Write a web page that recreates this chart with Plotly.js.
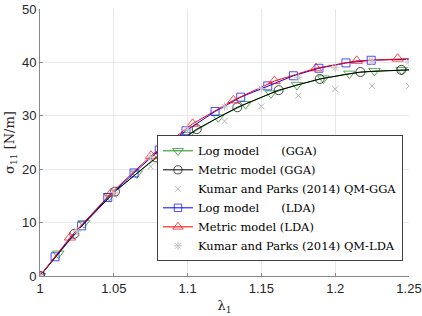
<!DOCTYPE html>
<html>
<head>
<meta charset="utf-8">
<script src="https://cdn.plot.ly/plotly-3.0.1.min.js"></script>
<style>html,body{margin:0;padding:0;background:#fff;}#chart{width:422px;height:316px;}</style>
</head>
<body>
<div id="chart"></div>
<script>
// Log model (GGA) markers, plus line end at 1.25
const logGGA_x = [1.0, 1.0124, 1.0298, 1.047, 1.0655, 1.0836, 1.1005, 1.1208, 1.1393, 1.1565, 1.1741, 1.192, 1.2096, 1.2266, 1.245, 1.25];
const logGGA_y = [0.0, 4.2, 9.9, 15.0, 19.2, 23.1, 26.4, 29.7, 32.2, 34.2, 35.8, 37.0, 37.9, 38.4, 38.6, 38.6];
// Metric model (GGA)
const metGGA_x = [1.0, 1.0232, 1.0508, 1.0786, 1.1062, 1.1337, 1.1617, 1.1895, 1.2171, 1.2448, 1.25];
const metGGA_y = [0.0, 7.9, 15.8, 22.2, 27.5, 31.6, 34.8, 36.9, 38.2, 38.6, 38.6];
// Kumar and Parks (2014) QM-GGA
const qmGGA_x = [1.0, 1.025, 1.05, 1.075, 1.1, 1.125, 1.15, 1.175, 1.2, 1.225, 1.25];
const qmGGA_y = [0.0, 8.0, 15.2, 20.5, 25.3, 29.0, 31.8, 33.8, 35.0, 35.6, 35.6];
// Log model (LDA)
const logLDA_x = [1.0, 1.0102, 1.0282, 1.0459, 1.0637, 1.0808, 1.0989, 1.1186, 1.136, 1.1543, 1.1717, 1.189, 1.2073, 1.2244, 1.25];
const logLDA_y = [0.0, 3.6, 9.4, 14.7, 19.3, 23.6, 27.2, 30.8, 33.5, 35.6, 37.5, 38.9, 39.9, 40.4, 40.6];
// Metric model (LDA)
const metLDA_x = [1.0, 1.0203, 1.0481, 1.0752, 1.1034, 1.131, 1.1588, 1.187, 1.2146, 1.2423, 1.25];
const metLDA_y = [0.0, 7.2, 15.5, 22.5, 28.5, 32.9, 36.5, 38.9, 40.3, 40.7, 40.7];
// Kumar and Parks (2014) QM-LDA
const qmLDA_x = [1.0, 1.025, 1.05, 1.075, 1.1, 1.125, 1.15, 1.175, 1.2, 1.225, 1.25];
const qmLDA_y = [0.0, 8.4, 15.6, 22.3, 27.5, 31.7, 35.1, 37.2, 39.0, 40.3, 40.1];

const names = [
  'Log model\u00a0\u00a0\u00a0\u00a0\u00a0\u00a0(GGA)',
  'Metric model (GGA)',
  'Kumar and Parks (2014) QM-GGA',
  'Log model\u00a0\u00a0\u00a0\u00a0\u00a0\u00a0(LDA)',
  'Metric model (LDA)',
  'Kumar and Parks (2014) QM-LDA'
];

function sizes(n, s) { const a = new Array(n).fill(s); a[n-1] = 0; return a; }

const traces = [
  {x: logGGA_x, y: logGGA_y, name: names[0], mode: 'lines+markers',
   line: {color: '#1a8a1a', width: 1},
   marker: {symbol: 'triangle-down-open', size: sizes(logGGA_x.length, 10), color: '#1a8a1a', line: {width: 1, color: '#1a8a1a'}}},
  {x: metGGA_x, y: metGGA_y, name: names[1], mode: 'lines+markers',
   line: {color: '#000000', width: 1},
   marker: {symbol: 'circle-open', size: sizes(metGGA_x.length, 9), color: '#000000', line: {width: 1}}},
  {x: qmGGA_x, y: qmGGA_y, name: names[2], mode: 'markers',
   marker: {symbol: 'x-thin-open', size: 6, color: '#b4b4b4', line: {width: 1, color: '#b4b4b4'}}},
  {x: logLDA_x, y: logLDA_y, name: names[3], mode: 'lines+markers',
   line: {color: '#0000ff', width: 1},
   marker: {symbol: 'square-open', size: sizes(logLDA_x.length, 8), color: '#0000ff', line: {width: 1}}},
  {x: metLDA_x, y: metLDA_y, name: names[4], mode: 'lines+markers',
   line: {color: '#ff0000', width: 1},
   marker: {symbol: 'triangle-up-open', size: sizes(metLDA_x.length, 10), color: '#ff0000', line: {width: 1}}},
  {x: qmLDA_x, y: qmLDA_y, name: names[5], mode: 'markers',
   marker: {symbol: 'asterisk-open', size: 7, color: '#c4c4c4', line: {width: 1, color: '#c4c4c4'}}}
];

const layout = {
  width: 422, height: 316,
  margin: {l: 40, r: 13, t: 9, b: 40},
  paper_bgcolor: '#ffffff', plot_bgcolor: '#ffffff',
  showlegend: true,
  font: {family: 'Liberation Sans, Arial, sans-serif', color: '#262626', size: 13},
  xaxis: {
    range: [1, 1.25], tickvals: [1, 1.05, 1.1, 1.15, 1.2, 1.25],
    ticktext: ['1', '1.05', '1.1', '1.15', '1.2', '1.25'],
    showgrid: true, gridcolor: '#e8e8e8', gridwidth: 1,
    zeroline: false, showline: true, linecolor: '#888888', linewidth: 1,
    ticks: 'inside', ticklen: 3, tickcolor: '#888888',
    tickfont: {size: 13, color: '#262626'},
    title: {text: 'λ<sub>1</sub>', font: {family: 'DejaVu Serif, Liberation Serif, serif', size: 13, color: '#262626'}, standoff: 6}
  },
  yaxis: {
    range: [0, 50], tickvals: [0, 10, 20, 30, 40, 50],
    showgrid: true, gridcolor: '#e8e8e8', gridwidth: 1,
    zeroline: false, showline: true, linecolor: '#888888', linewidth: 1,
    ticks: 'inside', ticklen: 3, tickcolor: '#888888',
    tickfont: {size: 13, color: '#262626'},
    title: {text: 'σ<sub>11</sub> [N/m]', font: {family: 'DejaVu Serif, Liberation Serif, serif', size: 13, color: '#262626'}, standoff: 4}
  },
  legend: {
    x: 0.317, y: 0.055, xanchor: 'left', yanchor: 'bottom',
    bgcolor: '#ffffff', bordercolor: '#404040', borderwidth: 1,
    font: {family: 'DejaVu Serif, Liberation Serif, serif', size: 11.5, color: '#000000'},
    tracegroupgap: 0, itemwidth: 30
  }
};

Plotly.newPlot('chart', traces, layout, {displayModeBar: false, staticPlot: true});
</script>
</body>
</html>
